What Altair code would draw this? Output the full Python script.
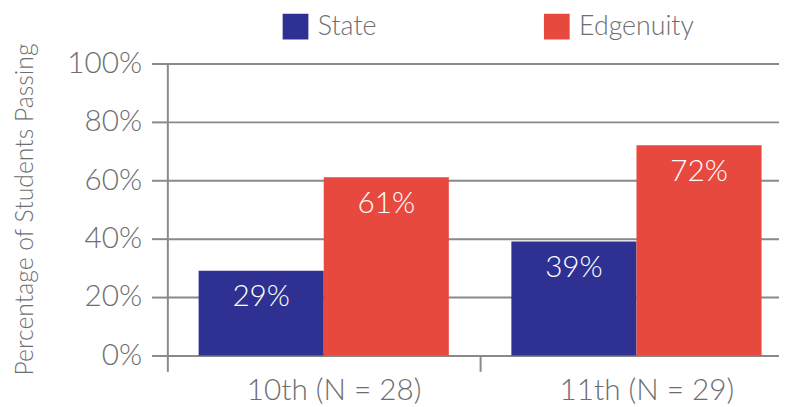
import altair as alt
import pandas as pd

grades = ["10th (N = 28)", "11th (N = 29)"]
groups = ["State", "Edgenuity"]
state_vals = [29, 39]
edg_vals = [61, 72]
colors = ["#2E3192", "#E8493E"]
y_ticks = [0, 20, 40, 60, 80, 100]

rows = []
for i, g in enumerate(grades):
    rows.append({"grade": g, "group": "State", "value": state_vals[i]})
    rows.append({"grade": g, "group": "Edgenuity", "value": edg_vals[i]})
df = pd.DataFrame(rows)

FONT = "Lato"
GREY = "#6D6E71"
LINE = "#898989"

base = alt.Chart(df).transform_calculate(
    label="datum.value + '%'"
).encode(
    x=alt.X(
        "grade:N",
        sort=grades,
        scale=alt.Scale(range=[0, 632], paddingInner=0, paddingOuter=0),
        axis=alt.Axis(
            title=None, tickBand="extent", tickSize=16, tickWidth=2, tickColor=LINE,
            domainColor=LINE, domainWidth=2, labelAngle=0, labelFontSize=30,
            labelColor=GREY, labelFont=FONT, labelFontWeight=300, labelPadding=4,
            labelOffset=10, grid=False,
        ),
    ),
    xOffset=alt.XOffset("group:N", sort=groups,
                        scale=alt.Scale(paddingOuter=0.25, paddingInner=0)),
)

bars = base.mark_bar(strokeWidth=0).encode(
    y=alt.Y(
        "value:Q",
        scale=alt.Scale(domain=[0, 100]),
        axis=alt.Axis(
            values=y_ticks, labelExpr="datum.value + '%'", tickSize=16, tickWidth=2,
            tickColor=LINE, domainColor=LINE, domainWidth=2, gridColor=LINE,
            gridWidth=2, grid=True, labelFontSize=30, labelColor=GREY, labelFont=FONT,
            labelFontWeight=300, labelPadding=10,
            title="Percentage of Students Passing", titleFontSize=25, titleColor=GREY,
            titleFont=FONT, titleFontWeight=300, titleX=-144, titleY=147,
            titleBaseline="middle", titleAlign="center",
        ),
    ),
    color=alt.Color(
        "group:N",
        sort=groups,
        scale=alt.Scale(domain=groups, range=colors),
        legend=alt.Legend(
            title=None, orient="none", legendX=116, legendY=-51, direction="horizontal",
            symbolType="square", symbolSize=676, symbolStrokeWidth=0, symbolOpacity=1,
            labelFontSize=27, labelColor=GREY, labelFont=FONT, labelFontWeight=300,
            labelOffset=9, columnPadding=168, padding=0,
        ),
    ),
)

text = base.mark_text(
    baseline="middle", dy=27, color="white", fontSize=30, font=FONT, fontWeight=300
).encode(
    y=alt.Y("value:Q"),
    text=alt.Text("label:N"),
)

chart = alt.layer(bars, text).properties(
    width=618, height=295, autosize="none",
    padding={"left": 161, "top": 54, "right": 0, "bottom": 50},
).configure_view(stroke=None)

chart.save("out.html", embed_options={"renderer": "svg", "actions": False})
